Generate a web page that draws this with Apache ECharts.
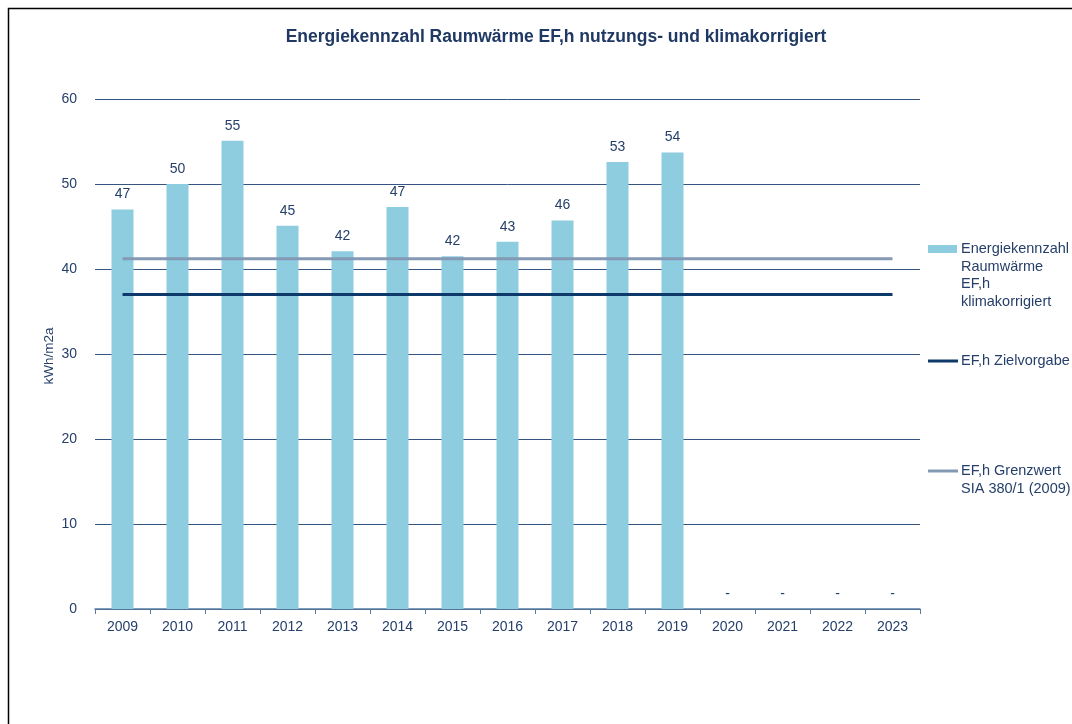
<!DOCTYPE html>
<html>
<head>
<meta charset="utf-8">
<script src="https://cdn.jsdelivr.net/npm/echarts@6/dist/echarts.min.js"></script>
<style>
  html, body { margin: 0; padding: 0; background: #fff; }
  #chart { width: 1072px; height: 724px; }
</style>
</head>
<body>
<div id="chart"></div>
<script>
const years = ['2009', '2010', '2011', '2012', '2013', '2014', '2015', '2016', '2017', '2018', '2019', '2020', '2021', '2022', '2023']
// 2020-2023 noch ohne Wert (Excel zeigt "-")
const energiekennzahl = [47.0, 50.0, 55.1, 45.1, 42.1, 47.3, 41.5, 43.2, 45.7, 52.6, 53.7, 0, 0, 0, 0]
const zielvorgabe = [37, 37, 37, 37, 37, 37, 37, 37, 37, 37, 37, 37, 37, 37, 37]
const grenzwert = [41.2, 41.2, 41.2, 41.2, 41.2, 41.2, 41.2, 41.2, 41.2, 41.2, 41.2, 41.2, 41.2, 41.2, 41.2]
const yTicks = [0, 10, 20, 30, 40, 50, 60]

const FONT = '"Liberation Sans", Arial, sans-serif'
const TEXT = '#253f6a'
const BAR = '#8ecde0'
const ZIEL = '#0e3a6b'
const GRENZ = '#8499b4'

const chart = echarts.init(document.getElementById('chart'))

chart.setOption({
  animation: false,
  textStyle: {fontFamily: FONT},
  title: {
    text: 'Energiekennzahl Raumwärme EF,h nutzungs- und klimakorrigiert',
    left: 551, top: 23, textAlign: 'center',
    textStyle: {fontSize: 17.5, fontWeight: 'bold', color: '#1f3864', fontFamily: FONT}
  },
  grid: {left: 95, right: 152, top: 99, bottom: 115},
  xAxis: {
    type: 'category',
    data: years,
    axisLine: {lineStyle: {color: '#5a7ca3', width: 1.5}},
    axisTick: {show: true, length: 5, lineStyle: {color: '#5a7ca3'}},
    axisLabel: {color: TEXT, fontSize: 14, margin: 11, fontFamily: FONT}
  },
  yAxis: {
    type: 'value',
    min: yTicks[0], max: yTicks[yTicks.length - 1], interval: 10,
    axisLine: {show: false},
    axisTick: {show: false},
    axisLabel: {color: TEXT, fontSize: 14, margin: 18, fontFamily: FONT},
    splitLine: {lineStyle: {color: '#34557f', width: 1}}
  },
  series: [
    {
      name: 'Energiekennzahl Raumwärme EF,h klimakorrigiert',
      type: 'bar',
      data: energiekennzahl,
      barWidth: 22,
      itemStyle: {color: BAR},
      label: {
        show: true, position: 'top', distance: 8,
        color: TEXT, fontSize: 14, fontFamily: FONT,
        formatter: p => p.value === 0 ? '-' : Math.round(p.value)
      },
      z: 2
    },
    {
      name: 'EF,h Zielvorgabe',
      type: 'line',
      data: zielvorgabe,
      symbol: 'none',
      lineStyle: {color: ZIEL, width: 3},
      z: 4
    },
    {
      name: 'EF,h Grenzwert SIA 380/1 (2009)',
      type: 'line',
      data: grenzwert,
      symbol: 'none',
      lineStyle: {color: GRENZ, width: 3},
      z: 3
    }
  ],
  graphic: [
    // Rahmen
    {type: 'rect', shape: {x: 8.5, y: 8.5, width: 1200, height: 900},
      style: {fill: 'none', stroke: '#000', lineWidth: 1.5}, silent: true},
    // y-Achsentitel
    {type: 'text', x: 49, y: 356, rotation: Math.PI / 2,
      style: {text: 'kWh/m2a', fill: TEXT, font: '13.5px ' + FONT, align: 'center', verticalAlign: 'middle'}},
    // Legende
    {type: 'rect', shape: {x: 928, y: 245, width: 29, height: 8}, style: {fill: BAR}},
    {type: 'text', x: 961, y: 240,
      style: {text: 'Energiekennzahl\nRaumwärme\nEF,h\nklimakorrigiert', fill: TEXT, font: '14.5px ' + FONT, lineHeight: 17.7, verticalAlign: 'top'}},
    {type: 'line', shape: {x1: 928, y1: 361, x2: 958, y2: 361}, style: {stroke: ZIEL, lineWidth: 3}},
    {type: 'text', x: 961, y: 361,
      style: {text: 'EF,h Zielvorgabe', fill: TEXT, font: '14.5px ' + FONT, verticalAlign: 'middle'}},
    {type: 'line', shape: {x1: 928, y1: 471, x2: 958, y2: 471}, style: {stroke: GRENZ, lineWidth: 3}},
    {type: 'text', x: 961, y: 462,
      style: {text: 'EF,h Grenzwert\nSIA 380/1 (2009)', fill: TEXT, font: '14.5px ' + FONT, lineHeight: 17.7, verticalAlign: 'top'}}
  ]
})
</script>
</body>
</html>
